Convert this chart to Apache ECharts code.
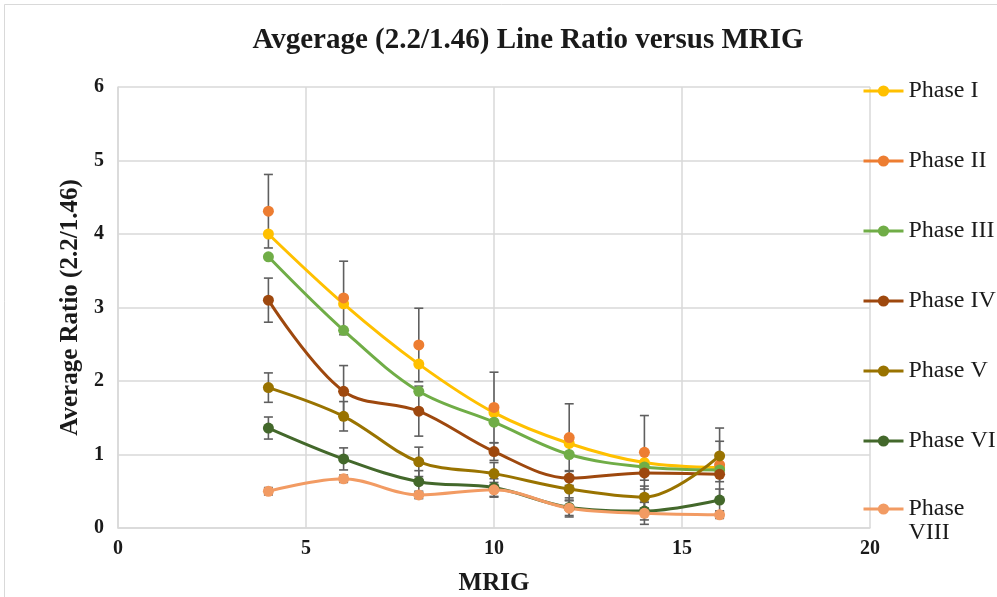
<!DOCTYPE html>
<html>
<head>
<meta charset="utf-8">
<script src="https://cdn.jsdelivr.net/npm/echarts@6/dist/echarts.min.js"></script>
<style>html,body{margin:0;padding:0;background:#fff;}#c{width:997px;height:597px;}</style>
</head>
<body>
<div id="c"></div>
<script>
const xValues = [4, 6, 8, 10, 12, 14, 16];
const phaseNames = ['Phase I', 'Phase II', 'Phase III', 'Phase IV', 'Phase V', 'Phase VI', 'Phase VIII'];
const phaseI    = [4.00, 3.05, 2.23, 1.57, 1.15, 0.89, 0.82];
const phaseII   = [4.31, 3.13, 2.49, 1.64, 1.23, 1.03, 0.86];
const phaseIII  = [3.69, 2.69, 1.86, 1.44, 1.00, 0.83, 0.79];
const phaseIV   = [3.10, 1.86, 1.59, 1.04, 0.68, 0.75, 0.73];
const phaseV    = [1.91, 1.52, 0.90, 0.74, 0.53, 0.42, 0.98];
const phaseVI   = [1.36, 0.94, 0.63, 0.55, 0.28, 0.23, 0.38];
const phaseVIII = [0.50, 0.67, 0.45, 0.52, 0.27, 0.20, 0.18];
const errII   = [0.50, 0.50, 0.50, 0.48, 0.46, 0.50, 0.50];
const errIV   = [0.30, 0.35, 0.34, 0.12, 0.10, 0.10, 0.10];
const errV    = [0.20, 0.20, 0.20, 0.15, 0.15, 0.15, 0.20];
const errVI   = [0.15, 0.15, 0.15, 0.12, 0.13, 0.12, 0.15];
const errVIII = [0.05, 0.05, 0.05, 0.10, 0.10, 0.15, 0.05];
const xTicks = [0, 5, 10, 15, 20];
const yTicks = [0, 1, 2, 3, 4, 5, 6];

const colors = ['#FFC000', '#ED7D31', '#70AD47', '#9E480E', '#997300', '#43682B', '#F29B63'];
const values = [phaseI, phaseII, phaseIII, phaseIV, phaseV, phaseVI, phaseVIII];
const errors = [null, errII, null, errIV, errV, errVI, errVIII];

const serif = '"Liberation Serif", "Times New Roman", serif';

const series = [];
values.forEach((vals, i) => {
  series.push({
    type: 'line',
    name: phaseNames[i],
    z: 3,
    smooth: 0.35,
    symbol: 'circle',
    symbolSize: 11,
    color: colors[i],
    itemStyle: { color: colors[i] },
    lineStyle: { color: colors[i], width: 3, opacity: i === 1 ? 0 : 1 },
    data: xValues.map((x, k) => [x, vals[k]])
  });
});
errors.forEach((err, i) => {
  if (!err) return;
  series.push({
    type: 'custom',
    name: phaseNames[i] + ' error',
    z: 1,
    silent: true,
    data: xValues.map((x, k) => [x, values[i][k], err[k]]),
    renderItem: function (params, api) {
      const x = api.value(0), y = api.value(1), e = api.value(2);
      const top = api.coord([x, y + e]);
      const bot = api.coord([x, y - e]);
      const hw = 4.5;
      const st = { stroke: '#5F5F5F', lineWidth: 1.6 };
      return {
        type: 'group',
        children: [
          { type: 'line', shape: { x1: top[0], y1: top[1], x2: bot[0], y2: bot[1] }, style: st },
          { type: 'line', shape: { x1: top[0] - hw, y1: top[1], x2: top[0] + hw, y2: top[1] }, style: st },
          { type: 'line', shape: { x1: bot[0] - hw, y1: bot[1], x2: bot[0] + hw, y2: bot[1] }, style: st }
        ]
      };
    }
  });
});

const legendText = { fontFamily: serif, fontSize: 24, color: '#1a1a1a', lineHeight: 24 };

const option = {
  animation: false,
  backgroundColor: '#fff',
  title: {
    text: 'Avgerage (2.2/1.46) Line Ratio versus MRIG',
    left: 523, top: 21, textAlign: 'center',
    textStyle: { fontFamily: serif, fontWeight: 'bold', fontSize: 29, color: '#1a1a1a' }
  },
  graphic: [
    { type: 'rect', shape: { x: 4.5, y: 4.5, width: 1100, height: 700 }, style: { fill: null, stroke: '#D9D9D9', lineWidth: 1 }, silent: true }
  ],
  legend: [
    {
      orient: 'vertical', left: 862, top: 79, padding: 0, itemGap: 46, itemWidth: 40, itemHeight: 14,
      lineStyle: { width: 3 },
      data: phaseNames.slice(0, 6).map((n, i) => i === 1 ? { name: n, lineStyle: { opacity: 1, color: colors[1], width: 3 } } : { name: n }),
      textStyle: legendText, selectedMode: false
    },
    {
      orient: 'vertical', left: 862, top: 473, padding: 0, itemWidth: 40, itemHeight: 14,
      lineStyle: { width: 3 },
      data: ['Phase VIII'],
      formatter: function () { return '\nPhase\nVIII'; },
      textStyle: legendText, selectedMode: false
    }
  ],
  grid: { left: 118, right: 127, top: 87, bottom: 69, containLabel: false, outerBoundsMode: 'none' },
  xAxis: {
    type: 'value', min: xTicks[0], max: xTicks[xTicks.length - 1], interval: 5,
    name: 'MRIG', nameLocation: 'middle', nameGap: 43,
    nameTextStyle: { fontFamily: serif, fontWeight: 'bold', fontSize: 25, color: '#1a1a1a' },
    axisLine: { lineStyle: { color: '#D9D9D9', width: 1.5 } },
    axisTick: { show: false },
    axisLabel: { fontFamily: serif, fontWeight: 'bold', fontSize: 20, color: '#1a1a1a', margin: 11 },
    splitLine: { show: true, lineStyle: { color: '#D9D9D9', width: 1.5 } }
  },
  yAxis: {
    type: 'value', min: yTicks[0], max: yTicks[yTicks.length - 1], interval: 1,
    name: 'Average Ratio (2.2/1.46)', nameLocation: 'middle', nameGap: 34,
    nameTextStyle: { fontFamily: serif, fontWeight: 'bold', fontSize: 25, color: '#1a1a1a' },
    axisLine: { show: true, lineStyle: { color: '#D9D9D9', width: 1.5 } },
    axisTick: { show: false },
    axisLabel: { fontFamily: serif, fontWeight: 'bold', fontSize: 20, color: '#1a1a1a', margin: 14 },
    splitLine: { show: true, lineStyle: { color: '#D9D9D9', width: 1.5 } }
  },
  series: series
};

const chart = echarts.init(document.getElementById('c'), null, { renderer: 'canvas' });
chart.setOption(option);
</script>
</body>
</html>
